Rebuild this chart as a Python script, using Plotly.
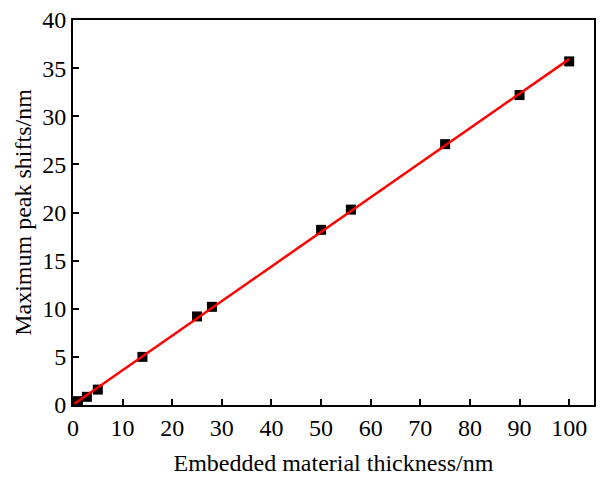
import numpy as np
import plotly.graph_objects as go

thickness = [0.3, 1, 2.8, 5, 14, 25, 28, 50, 56, 75, 90, 100]
peak_shift = [0.1, 0.4, 0.85, 1.6, 5.0, 9.2, 10.2, 18.2, 20.3, 27.1, 32.2, 35.7]

x_ticks = [0, 10, 20, 30, 40, 50, 60, 70, 80, 90, 100]
y_ticks = [0, 5, 10, 15, 20, 25, 30, 35, 40]

slope, intercept = np.polyfit(thickness, peak_shift, 1)
fit_x = np.array([min(thickness), max(thickness)])
fit_y = slope * fit_x + intercept

fig = go.Figure()
fig.add_trace(go.Scatter(x=thickness, y=peak_shift, mode="markers",
                         marker=dict(symbol="square", size=10, color="black"),
                         showlegend=False))
fig.add_trace(go.Scatter(x=fit_x, y=fit_y, mode="lines",
                         line=dict(color="red", width=2.5), showlegend=False))

font = dict(family="Liberation Serif, Times New Roman, serif", size=24, color="black")
axis_common = dict(showgrid=False, zeroline=False, showline=True, linecolor="black",
                   linewidth=2, mirror=True, ticks="inside", ticklen=6, tickwidth=2,
                   tickcolor="black", tickfont=font)
fig.update_layout(
    width=603, height=479,
    margin=dict(l=73, r=7, t=18, b=74),
    plot_bgcolor="white", paper_bgcolor="white",
    font=font,
    xaxis=dict(range=[0, 105], tickvals=x_ticks,
               title=dict(text="Embedded material thickness/nm", font=font, standoff=14),
               **axis_common),
    yaxis=dict(range=[0, 40], tickvals=y_ticks,
               title=dict(text="Maximum peak shifts/nm", font=font, standoff=4),
               **axis_common),
)
fig.write_html("out.html")
